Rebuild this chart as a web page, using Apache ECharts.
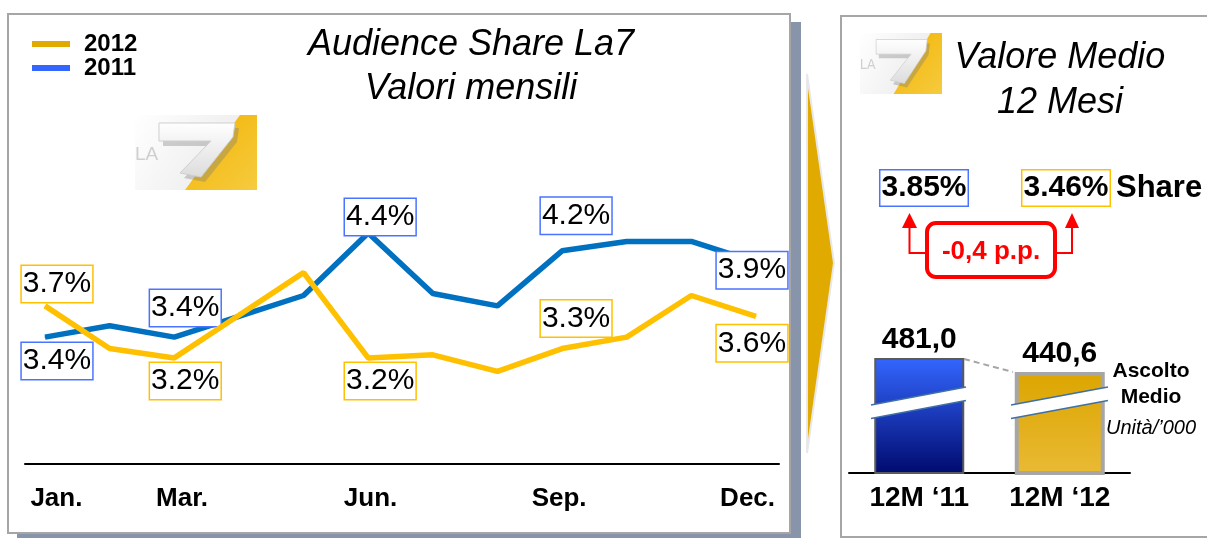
<!DOCTYPE html>
<html>
<head>
<meta charset="utf-8">
<script src="https://cdn.jsdelivr.net/npm/echarts@6/dist/echarts.min.js"></script>
<style>
  html, body { margin: 0; padding: 0; background: #fff; }
  #main { width: 1207px; height: 538px; }
</style>
</head>
<body>
<div id="main"></div>
<script>
// dati
const months = ['Jan.', 'Feb.', 'Mar.', 'Apr.', 'May', 'Jun.', 'Jul.', 'Aug.', 'Sep.', 'Oct.', 'Nov.', 'Dec.'];
const tickMonths = ['Jan.', 'Mar.', 'Jun.', 'Sep.', 'Dec.'];
const share2011 = [3.40, 3.51, 3.40, 3.60, 3.80, 4.40, 3.82, 3.70, 4.23, 4.32, 4.32, 4.12];
const share2012 = [3.70, 3.29, 3.20, 3.61, 4.02, 3.20, 3.23, 3.07, 3.29, 3.40, 3.80, 3.60];
const labels2011 = ['3.4%', '3.4%', '4.4%', '4.2%', '3.9%'];
const labels2012 = ['3.7%', '3.2%', '3.2%', '3.3%', '3.6%'];
const periods = ['12M \u201811', '12M \u201812'];
const ascolto = [481.0, 440.6];
const avgShare = ['3.85%', '3.46%'];
const deltaText = '-0,4 p.p.';

// spostamenti delle etichette (px) rispetto al punto
const off2011 = [[12, 24], [11, -29], [12, -16], [14, -35], [-4, 8]];
const off2012 = [[12, -22], [11, 23], [12, 23], [14, -30], [-4, 27]];

const BLUE = '#0070c0', GOLD = '#ffc000', BOX_BLUE = '#4a74ff', BOX_GOLD = '#ffc000';
const FONT = 'Liberation Sans, Arial, sans-serif';

function lineData(values, labels, offs, boxColor) {
  return values.map((v, i) => {
    const k = tickMonths.indexOf(months[i]);
    if (k < 0) return v;
    return {
      value: v,
      label: {
        show: true, position: 'inside', offset: offs[k], formatter: labels[k],
        fontSize: 30, fontFamily: FONT, color: '#000', lineHeight: 34,
        backgroundColor: '#fff', borderColor: boxColor, borderWidth: 1.5, padding: [1, 1]
      }
    };
  });
}

function logo(x, y, sx, sy) {
  return {
    type: 'group', x: x, y: y, scaleX: sx, scaleY: sy,
    children: [
      { type: 'rect', shape: { x: 0, y: 0, width: 122, height: 75 },
        style: { fill: new echarts.graphic.LinearGradient(0, 0, 1, 1, [{offset: 0, color: '#ffffff'}, {offset: 1, color: '#e6e6e6'}]) } },
      { type: 'polygon', shape: { points: [[105, 0], [122, 0], [122, 75], [50, 75]] },
        style: { fill: new echarts.graphic.LinearGradient(0, 0, 1, 1, [{offset: 0, color: '#f2b300'}, {offset: 1, color: '#f6cb40'}]) } },
      { type: 'text', x: 0, y: 30, style: { text: 'LA', fontSize: 19, fontFamily: FONT, fill: '#cfcfcf', letterSpacing: 4 } },
      { type: 'polygon', shape: { points: [[28, 13], [104, 13], [102, 27], [70, 67], [49, 63], [80, 31], [28, 31]] },
        style: { fill: 'rgba(120,120,120,0.35)' } },
      { type: 'polygon', shape: { points: [[24, 8], [100, 8], [98, 22], [66, 62], [45, 58], [76, 26], [24, 26]] },
        style: { fill: new echarts.graphic.LinearGradient(0, 0, 0, 1, [{offset: 0, color: '#ffffff'}, {offset: 1, color: '#dcdcdc'}]), stroke: '#cfcfcf', lineWidth: 1 } }
    ]
  };
}

function breakBand(x0, x1) {
  const yt0 = 405, yt1 = 387, h = 13.5;
  return [
    { type: 'polygon', z: 100, shape: { points: [[x0, yt0], [x1, yt1], [x1, yt1 + h], [x0, yt0 + h]] }, style: { fill: '#fff' } },
    { type: 'line', z: 101, shape: { x1: x0, y1: yt0, x2: x1, y2: yt1 }, style: { stroke: '#3e6fa6', lineWidth: 1.5 } },
    { type: 'line', z: 101, shape: { x1: x0, y1: yt0 + h, x2: x1, y2: yt1 + h }, style: { stroke: '#3e6fa6', lineWidth: 1.5 } }
  ];
}

const chart = echarts.init(document.getElementById('main'), null, { renderer: 'canvas' });

const graphics = [
  // cornice sinistra con ombra
  { type: 'rect', z: -10, shape: { x: 790, y: 22, width: 11, height: 516 }, style: { fill: '#8794aa' } },
  { type: 'rect', z: -10, shape: { x: 17, y: 533, width: 784, height: 6 }, style: { fill: '#8794aa' } },
  { type: 'rect', z: -9, shape: { x: 8, y: 14, width: 782, height: 519 }, style: { fill: '#fff', stroke: '#a6a6a6', lineWidth: 2 } },
  // cornice destra
  { type: 'rect', z: -9, shape: { x: 841, y: 16, width: 380, height: 521 }, style: { fill: '#fff', stroke: '#a6a6a6', lineWidth: 2 } },
  // freccia
  { type: 'polygon', z: -5, shape: { points: [[807, 74], [834, 263], [807, 453]] },
    style: { fill: '#e0aa00', stroke: '#e8e8e8', lineWidth: 2 } },
  logo(135, 115, 1, 1),
  logo(860, 33, 82 / 122, 61 / 75),
  // box share
  { type: 'text', z: 50, x: 924, y: 188, style: { text: avgShare[0], fontSize: 30, fontWeight: 'bold', fontFamily: FONT, fill: '#000',
      align: 'center', verticalAlign: 'middle', backgroundColor: '#fff', borderColor: BOX_BLUE, borderWidth: 1.5, padding: [3, 1, 2, 1] } },
  { type: 'text', z: 50, x: 1066, y: 188, style: { text: avgShare[1], fontSize: 30, fontWeight: 'bold', fontFamily: FONT, fill: '#000',
      align: 'center', verticalAlign: 'middle', backgroundColor: '#fff', borderColor: BOX_GOLD, borderWidth: 1.5, padding: [3, 1, 2, 1] } },
  { type: 'text', z: 50, x: 1116, y: 188, style: { text: 'Share', fontSize: 31, fontWeight: 'bold', fontFamily: FONT, fill: '#000',
      align: 'left', verticalAlign: 'middle' } },
  // frecce rosse
  { type: 'polyline', z: 50, shape: { points: [[909.5, 226], [909.5, 253], [927, 253]] }, style: { stroke: '#ff0000', lineWidth: 2, fill: null } },
  { type: 'polygon', z: 50, shape: { points: [[902, 228], [917, 228], [909.5, 213]] }, style: { fill: '#ff0000' } },
  { type: 'polyline', z: 50, shape: { points: [[1072, 226], [1072, 253], [1055, 253]] }, style: { stroke: '#ff0000', lineWidth: 2, fill: null } },
  { type: 'polygon', z: 50, shape: { points: [[1065, 228], [1079, 228], [1072, 213]] }, style: { fill: '#ff0000' } },
  { type: 'rect', z: 50, shape: { x: 927, y: 223, width: 128, height: 54, r: 9 }, style: { fill: '#fff', stroke: '#ff0000', lineWidth: 4 } },
  { type: 'text', z: 51, x: 991, y: 252, style: { text: deltaText, fontSize: 26, fontWeight: 'bold', fontFamily: FONT, fill: '#ff0000',
      align: 'center', verticalAlign: 'middle' } },
  // ascolto medio
  { type: 'text', z: 50, x: 1151, y: 384, style: { text: 'Ascolto\nMedio', fontSize: 21, lineHeight: 26, fontWeight: 'bold', fontFamily: FONT,
      fill: '#000', align: 'center', verticalAlign: 'middle' } },
  { type: 'text', z: 50, x: 1151, y: 428, style: { text: 'Unit\u00e0/\u2019000', fontSize: 20, fontStyle: 'italic', fontFamily: FONT,
      fill: '#000', align: 'center', verticalAlign: 'middle' } },
  // linea tratteggiata tra le barre
  { type: 'line', z: 100, shape: { x1: 964, y1: 359, x2: 1013, y2: 372 }, style: { stroke: '#a6a6a6', lineWidth: 2, lineDash: [6, 4] } }
].concat(breakBand(871, 966)).concat(breakBand(1011, 1108));

chart.setOption({
  backgroundColor: '#fff',
  animation: false,
  textStyle: { fontFamily: FONT },
  title: [
    { text: 'Audience Share La7\nValori mensili', left: 466, top: 18, textAlign: 'center',
      textStyle: { fontSize: 36, fontStyle: 'italic', fontWeight: 'normal', color: '#000', lineHeight: 44, fontFamily: FONT } },
    { text: 'Valore Medio\n12 Mesi', left: 1055, top: 30, textAlign: 'center',
      textStyle: { fontSize: 36, fontStyle: 'italic', fontWeight: 'normal', color: '#000', lineHeight: 45, fontFamily: FONT } }
  ],
  legend: {
    left: 32, top: 32, orient: 'vertical', padding: 0, itemGap: 0,
    itemWidth: 38, itemHeight: 6, icon: 'rect',
    textStyle: { fontSize: 24, fontWeight: 'bold', color: '#000', lineHeight: 24, padding: [0, 0, 0, 9], fontFamily: FONT },
    data: [
      { name: '2012', itemStyle: { color: '#e0aa00' } },
      { name: '2011', itemStyle: { color: '#3366ff' } }
    ]
  },
  grid: [
    { left: 45, right: 451, top: 212.3, bottom: 74 },
    { left: 25, right: 428, top: 212.3, bottom: 74 },
    { left: 849, right: 77, top: 316.7, bottom: 65 }
  ],
  xAxis: [
    { gridIndex: 0, type: 'category', data: months, boundaryGap: false, show: false },
    { gridIndex: 1, type: 'category', data: months, boundaryGap: true,
      axisLine: { lineStyle: { color: '#000', width: 2 } }, axisTick: { show: false },
      axisLabel: { interval: (i, v) => tickMonths.indexOf(v) >= 0, formatter: v => v, margin: 22,
        fontSize: 26, fontWeight: 'bold', color: '#000', fontFamily: FONT } },
    { gridIndex: 2, type: 'category', data: periods, boundaryGap: true,
      axisLine: { lineStyle: { color: '#000', width: 2 } }, axisTick: { show: false },
      axisLabel: { margin: 11, fontSize: 28, fontWeight: 'bold', color: '#000', fontFamily: FONT } }
  ],
  yAxis: [
    { gridIndex: 0, type: 'value', min: 2.18, max: 4.6, show: false },
    { gridIndex: 1, type: 'value', min: 0, max: 1, show: false },
    { gridIndex: 2, type: 'value', min: 150, max: 600, show: false }
  ],
  series: [
    { name: '2011', type: 'line', xAxisIndex: 0, yAxisIndex: 0, data: lineData(share2011, labels2011, off2011, BOX_BLUE),
      symbol: 'circle', symbolSize: 1, itemStyle: { color: BLUE }, lineStyle: { color: BLUE, width: 5.5 }, z: 3 },
    { name: '2012', type: 'line', xAxisIndex: 0, yAxisIndex: 0, data: lineData(share2012, labels2012, off2012, BOX_GOLD),
      symbol: 'circle', symbolSize: 1, itemStyle: { color: GOLD }, lineStyle: { color: GOLD, width: 5.5 }, z: 4 },
    { name: 'Ascolto', type: 'bar', xAxisIndex: 2, yAxisIndex: 2, barWidth: 90,
      label: { show: true, position: 'top', distance: 3, fontSize: 30, fontWeight: 'bold', color: '#000', fontFamily: FONT,
        formatter: p => p.value.toFixed(1).replace('.', ',') },
      data: [
        { value: ascolto[0], itemStyle: { borderColor: '#5a5a5a', borderWidth: 2,
          color: new echarts.graphic.LinearGradient(0, 0, 0, 1, [{offset: 0, color: '#3366ff'}, {offset: 1, color: '#000a6e'}]) } },
        { value: ascolto[1], itemStyle: { borderColor: '#a6a6a6', borderWidth: 4,
          color: new echarts.graphic.LinearGradient(0, 0, 0, 1, [{offset: 0, color: '#dca500'}, {offset: 1, color: '#e9ba35'}]) } }
      ] }
  ],
  graphic: graphics
});
</script>
</body>
</html>
